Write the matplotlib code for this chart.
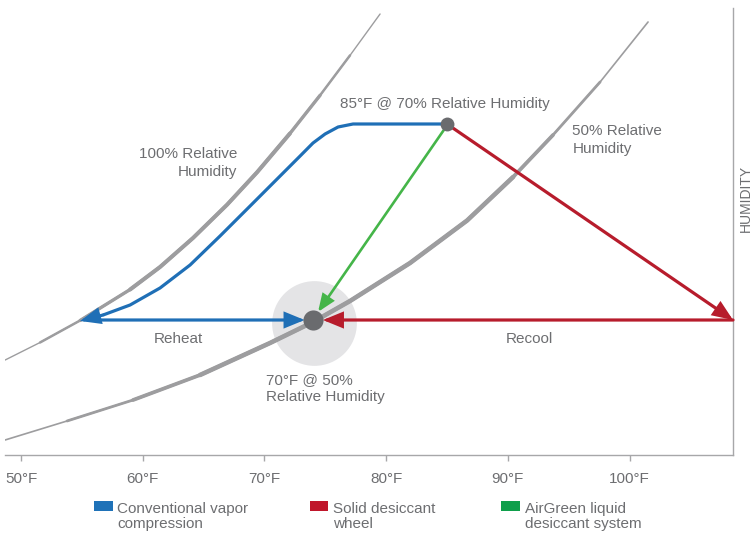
import numpy as np
import matplotlib
matplotlib.use('Agg')
import matplotlib.pyplot as plt
from matplotlib.patches import Rectangle

plt.rcParams['font.family'] = ['Liberation Sans Narrow', 'Liberation Sans', 'DejaVu Sans']

# ── data (x: dry bulb temperature in °F, y: humidity index) ────────────────
rh100_t = [48.69, 51.56, 54.85, 58.96, 61.42, 64.13, 66.93, 69.39, 72.10, 74.57, 77.03, 79.50]
rh100_h = [21.25, 25.17, 30.09, 37.02, 42.06, 48.55, 56.00, 63.24, 71.95, 80.47, 89.40, 98.66]

rh50_t = [48.69, 53.78, 59.20, 64.71, 70.46, 73.99, 77.03, 81.96, 86.65, 90.43, 93.71,
          97.58, 101.52]
rh50_h = [3.36, 7.61, 12.30, 17.90, 25.06, 29.75, 34.45, 42.95, 52.46, 62.19, 71.59,
          83.45, 96.87]

# conventional vapour compression path (cool along saturation, then reheat)
vapor_t = [85.0, 77.28, 76.05, 74.98, 73.99, 72.93, 68.82, 66.35, 63.89, 61.42, 58.96,
           56.74, 54.85]
vapor_h = [74.05, 74.05, 73.38, 71.81, 69.80, 66.89, 55.70, 48.99, 42.51, 37.36, 33.56,
           31.32, 29.98]

start_t, start_h = 85.0, 74.05      # 85°F @ 70% RH
target_t, target_h = 74.0, 30.2     # 70°F @ 50% RH
wheel_t = 108.5                     # solid desiccant wheel hot point
reheat_tip_t = 73.3
recool_tip_t = 74.8
green_tip = (74.4, 32.0)

tick_temps = [50, 60, 70, 80, 90, 100]
tick_labels = ['50°F', '60°F', '70°F', '80°F', '90°F', '100°F']

legend_labels = ['Conventional vapor\ncompression', 'Solid desiccant\nwheel',
                 'AirGreen liquid\ndesiccant system']

BLUE = '#1f6fb6'
RED = '#b71c2c'
GREEN = '#45b549'
CURVE = '#9d9d9f'
TXT = '#6d6e71'
W, H = 754, 535
FS = 11

fig = plt.figure(figsize=(W / 100, H / 100), dpi=100)
ax = fig.add_axes([5 / W, (H - 455) / H, 728 / W, 447 / H])
ax.set_xlim(48.68, 108.5)
ax.set_ylim(0, 100)
for s in ['left', 'top']:
    ax.spines[s].set_visible(False)
for s in ['bottom', 'right']:
    ax.spines[s].set_color('#a7a7a9')
    ax.spines[s].set_linewidth(1.0)
ax.set_yticks([])
ax.set_xticks(tick_temps)
ax.set_xticklabels(tick_labels)
ax.tick_params(axis='x', length=4, width=1, color='#a7a7a9', pad=8,
               labelsize=FS, labelcolor=TXT)


def tapered(xs, ys, widths, z):
    # thin full-length stroke, thicker strokes over the inner part
    for k, lw in enumerate(widths):
        sl = slice(k, len(xs) - k)
        ax.plot(xs[sl], ys[sl], color=CURVE, lw=lw, zorder=z,
                solid_capstyle='round', solid_joinstyle='round')


def arrow(p0, p1, color, lw, hl=11, hw=4.5, z=4):
    ax.annotate('', xy=p1, xytext=p0, annotation_clip=False,
                arrowprops=dict(arrowstyle=f'-|>,head_length={hl},head_width={hw}',
                                mutation_scale=1, color=color, lw=lw,
                                shrinkA=0, shrinkB=0, joinstyle='miter'),
                zorder=z)


# highlight disc around the target state
ax.plot([target_t + 0.05], [target_h - 0.6], 'o', ms=61, color='#e4e4e6',
        mec='none', zorder=1)

tapered(rh100_t, rh100_h, [1.0, 1.8, 2.4, 2.9], 2)
tapered(rh50_t, rh50_h, [1.2, 2.0, 2.7, 3.3], 2)

# blue path
ax.plot(vapor_t[:-1], vapor_h[:-1], color=BLUE, lw=2.3, zorder=3,
        solid_joinstyle='round', solid_capstyle='butt')
arrow((vapor_t[-2], vapor_h[-2]), (vapor_t[-1], vapor_h[-1]), BLUE, 2.3)
arrow((vapor_t[-1] + 0.6, target_h), (reheat_tip_t, target_h), BLUE, 2.3)

# red path
arrow((start_t, start_h), (wheel_t, target_h), RED, 2.3)
arrow((wheel_t, target_h), (recool_tip_t, target_h), RED, 2.3)

# green path
arrow((start_t - 0.25, start_h - 1.3), green_tip, GREEN, 1.9, hl=10, hw=4)

ax.plot([target_t], [target_h], 'o', ms=14.5, color='#6a6b6e', mec='none', zorder=6)
ax.plot([start_t], [start_h], 'o', ms=10, color='#6a6b6e', mec='none', zorder=6)

# annotations
kw = dict(color=TXT, fontsize=FS, zorder=7)
ax.text(84.8, 78.5, '85°F @ 70% Relative Humidity', ha='center', va='center', **kw)
ax.text(67.75, 65.3, '100% Relative\nHumidity', ha='right', va='center',
        linespacing=1.35, **kw)
ax.text(95.3, 70.4, '50% Relative\nHumidity', ha='left', va='center',
        linespacing=1.35, **kw)
ax.text(62.9, 26.0, 'Reheat', ha='center', va='center', **kw)
ax.text(91.8, 26.0, 'Recool', ha='center', va='center', **kw)
ax.text(70.1, 14.9, '70°F @ 50%\nRelative Humidity', ha='left', va='center',
        linespacing=1.3, **kw)

fig.text(746 / W, 1 - 198 / H, 'HUMIDITY', rotation=90, ha='center', va='center',
         color=TXT, fontsize=10)

# legend
for x0, x1, tx, col, lab in zip([94, 310, 501], [113, 328, 520], [117, 333, 525],
                                 ['#1f72b8', '#c0162b', '#0f9f4b'], legend_labels):
    fig.patches.append(Rectangle((x0 / W, 1 - 511 / H), (x1 - x0) / W, 10 / H,
                                 transform=fig.transFigure, color=col, lw=0))
    fig.text(tx / W, 1 - 516.5 / H, lab, ha='left', va='center', color=TXT,
             fontsize=FS, linespacing=1.15)

fig.savefig('out.png', dpi=100)
